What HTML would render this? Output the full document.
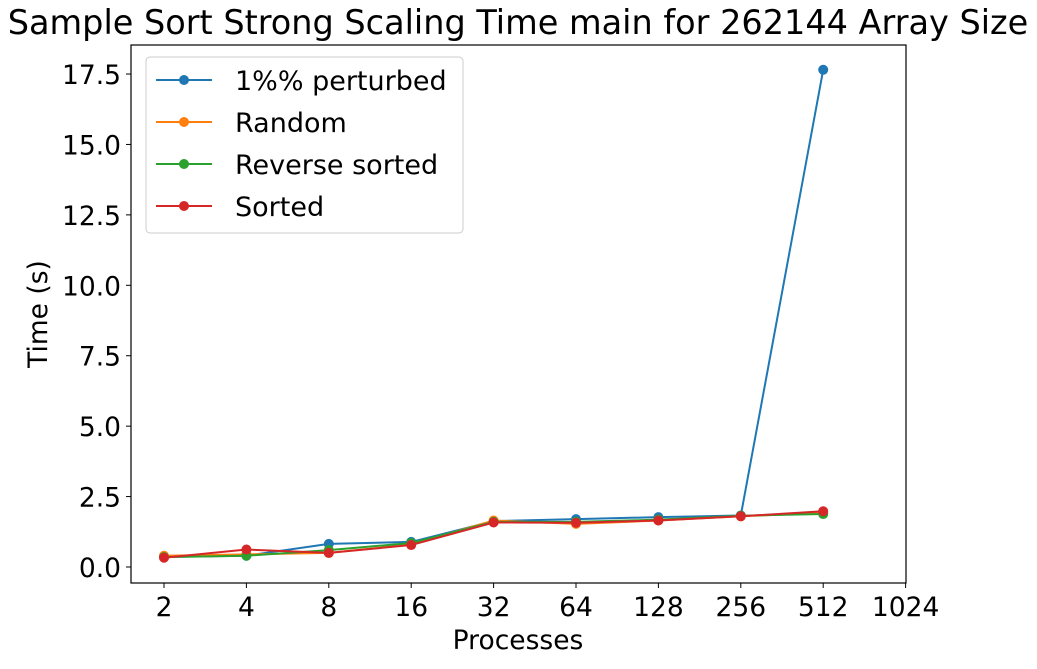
<!DOCTYPE html>
<html><head><meta charset="utf-8"><style>
body{margin:0;background:#fff;font-family:"Liberation Sans","DejaVu Sans",sans-serif}
svg text{font-family:"DejaVu Sans","Liberation Sans",sans-serif;fill:#000}
</style></head><body>
<svg id="chart" width="1037" height="664" xmlns="http://www.w3.org/2000/svg"></svg>
<script>
const categories=[2,4,8,16,32,64,128,256,512];
const xTicks=[2,4,8,16,32,64,128,256,512,1024];
const yTicks=[0,2.5,5,7.5,10,12.5,15,17.5];
const seriesNames=["1%% perturbed","Random","Reverse sorted","Sorted"];
const colors=["#1f77b4","#ff7f0e","#2ca02c","#d62728"];
const perturbed=[0.36,0.4,0.82,0.89,1.63,1.70,1.77,1.83,17.65];
const random=[0.4,0.45,0.5,0.8,1.65,1.53,1.65,1.8,1.92];
const reverse=[0.35,0.4,0.6,0.85,1.6,1.6,1.68,1.82,1.88];
const sorted=[0.33,0.62,0.5,0.78,1.58,1.57,1.65,1.8,1.98];
const series=[perturbed,random,reverse,sorted];
const L=131,R=906,T=45,B=583;
const x=v=>164+Math.log2(v/2)*82.4;
const y=v=>567-v*28.17;
const svg=document.getElementById('chart');
const NS='http://www.w3.org/2000/svg';
function mk(t,a,p){const e=document.createElementNS(NS,t);for(const k in a)e.setAttribute(k,a[k]);(p||svg).appendChild(e);return e;}
const title=mk('text',{x:518,y:34,'font-size':33.5,'text-anchor':'middle'});title.textContent='Sample Sort Strong Scaling Time main for 262144 Array Size';


xTicks.forEach(v=>{
 const g=mk('g',{});
 
 
 mk('line',{x1:x(v),x2:x(v),y1:B,y2:B+5,stroke:'#000','stroke-width':1},g);
 const t=mk('text',{x:x(v),y:B+33,'font-size':26.5,'text-anchor':'middle'},g);t.textContent=v;
});
yTicks.forEach(v=>{
 const g=mk('g',{});
 
 
 mk('line',{x1:L-5,x2:L,y1:y(v),y2:y(v),stroke:'#000','stroke-width':1},g);
 const t=mk('text',{x:L-10,y:y(v)+10,'font-size':26.5,'text-anchor':'end'},g);t.textContent=v.toFixed(1);
});
const xl=mk('text',{x:518,y:649,'font-size':26.5,'text-anchor':'middle'});xl.textContent='Processes';


const yl=mk('text',{x:0,y:0,'font-size':26.5,'text-anchor':'middle',transform:'translate(47,314) rotate(-90)'});yl.textContent='Time (s)';


series.forEach((s,i)=>{
 const g=mk('g',{});
 
 
 mk('polyline',{points:s.map((v,j)=>x(categories[j])+','+y(v)).join(' '),fill:'none',stroke:colors[i],'stroke-width':2},g);
 s.forEach((v,j)=>{const c=mk('circle',{cx:x(categories[j]),cy:y(v),r:5,fill:colors[i]},g);
  
  });
});
const frame=mk('rect',{x:L,y:T,width:R-L,height:B-T,fill:'none',stroke:'#000','stroke-width':1.2});


const lg=mk('g',{});


mk('rect',{x:146,y:57,width:317,height:176,rx:4,fill:'#fff','fill-opacity':0.8,stroke:'#ccc'},lg);
seriesNames.forEach((n,i)=>{
 const cy=80+i*42;
 const e=mk('g',{},lg);
 
 
 mk('line',{x1:156,x2:212,y1:cy,y2:cy,stroke:colors[i],'stroke-width':2},e);
 mk('circle',{cx:184,cy:cy,r:5,fill:colors[i]},e);
 const t=mk('text',{x:235,y:cy+10,'font-size':27},e);t.textContent=n;
});
</script>
</body></html>
